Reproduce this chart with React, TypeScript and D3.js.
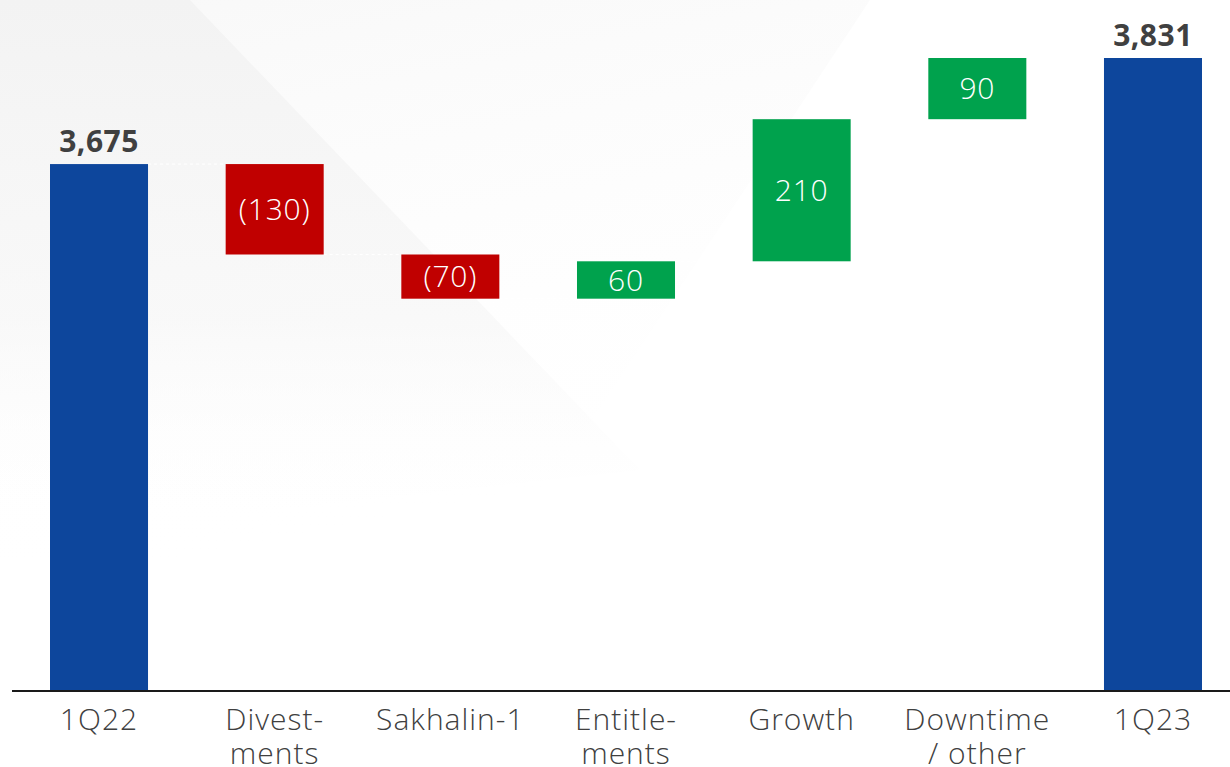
import React from "react";
import * as d3 from "d3";

const categories = ["1Q22", "Divestments", "Sakhalin-1", "Entitlements", "Growth", "Downtime / other", "1Q23"];
const categoryLines = [["1Q22"], ["Divest-", "ments"], ["Sakhalin-1"], ["Entitle-", "ments"], ["Growth"], ["Downtime", "/ other"], ["1Q23"]];
const kinds = ["total", "delta", "delta", "delta", "delta", "delta", "total"];
const values = [3675, -133, -65, 55, 209, 90, 3831];
const valueLabels = ["3,675", "(130)", "(70)", "60", "210", "90", "3,831"];

const W = 1230;
const H = 767;
const FONT = "'Open Sans', 'Noto Sans', sans-serif";

export default function App() {
  const x = d3.scaleBand<string>().domain(categories).range([50, 1202]).paddingInner(0.442).paddingOuter(0);
  const y = d3.scaleLinear().domain([2900, 3831]).range([691, 58]);

  let running = 0;
  const bars = categories.map((c, i) => {
    let lo: number, hi: number;
    if (kinds[i] === "total") {
      lo = y.domain()[0];
      hi = values[i];
      running = values[i];
    } else {
      const start = running;
      const end = running + values[i];
      lo = Math.min(start, end);
      hi = Math.max(start, end);
      running = end;
    }
    const color = kinds[i] === "total" ? "#0D469C" : values[i] < 0 ? "#C00000" : "#00A24D";
    return { c, i, lo, hi, color, end: running };
  });

  return (
    <div style={{ position: "absolute", left: 0, top: 0 }}>
      <svg width={W} height={H} style={{ display: "block" }}>
        <defs>
          <linearGradient id="bgA" x1="0" y1="0" x2="0" y2="1">
            <stop offset="0" stopColor="#f3f3f3" stopOpacity={1} />
            <stop offset="0.6" stopColor="#f7f7f7" stopOpacity={0.7} />
            <stop offset="1" stopColor="#ffffff" stopOpacity={0} />
          </linearGradient>
          <linearGradient id="bgB" x1="0" y1="0" x2="0.3" y2="1">
            <stop offset="0" stopColor="#f8f8f8" stopOpacity={1} />
            <stop offset="0.5" stopColor="#fbfbfb" stopOpacity={0.5} />
            <stop offset="1" stopColor="#ffffff" stopOpacity={0} />
          </linearGradient>
        </defs>
        <rect x={0} y={0} width={W} height={H} fill="#ffffff" />
        <polygon points="0,0 870,0 500,560 0,560" fill="url(#bgB)" />
        <polygon points="0,0 190,0 640,470 0,540" fill="url(#bgA)" />

        {bars.slice(0, -1).map((b) => {
          const next = bars[b.i + 1];
          const yy = y(b.end);
          return (
            <line
              key={"conn" + b.i}
              x1={(x(b.c) as number) + x.bandwidth()}
              x2={x(next.c) as number}
              y1={yy}
              y2={yy}
              stroke="#ffffff"
              strokeWidth={1}
              strokeDasharray="3,3"
            />
          );
        })}

        {bars.map((b) => (
          <rect
            key={b.c}
            x={x(b.c)}
            y={y(b.hi)}
            width={x.bandwidth()}
            height={y(b.lo) - y(b.hi)}
            fill={b.color}
          />
        ))}

        {bars.map((b) => {
          const cx = (x(b.c) as number) + x.bandwidth() / 2;
          if (kinds[b.i] === "total") {
            return (
              <text
                key={"v" + b.c}
                x={cx}
                y={y(b.hi) - 12}
                textAnchor="middle"
                fontFamily={FONT}
                fontWeight={700}
                fontSize={30}
                letterSpacing={0.5}
                fill="#404040"
              >
                {valueLabels[b.i]}
              </text>
            );
          }
          const cy = (y(b.hi) + y(b.lo)) / 2;
          return (
            <text
              key={"v" + b.c}
              x={cx}
              y={cy}
              dy="0.36em"
              textAnchor="middle"
              fontFamily={FONT}
              fontWeight={300}
              fontSize={30}
              letterSpacing={0.8}
              fill="#ffffff"
            >
              {valueLabels[b.i]}
            </text>
          );
        })}

        <line x1={12} x2={1230} y1={691} y2={691} stroke="#1a1a1a" strokeWidth={2} />

        {categories.map((c, i) => {
          const cx = (x(c) as number) + x.bandwidth() / 2;
          return (
            <text
              key={"cat" + c}
              x={cx}
              y={730}
              textAnchor="middle"
              fontFamily={FONT}
              fontWeight={300}
              fontSize={30}
              letterSpacing={1}
              fill="#404040"
            >
              {categoryLines[i].map((ln, j) => (
                <tspan key={j} x={cx} y={730 + j * 34}>
                  {ln}
                </tspan>
              ))}
            </text>
          );
        })}
      </svg>
    </div>
  );
}
